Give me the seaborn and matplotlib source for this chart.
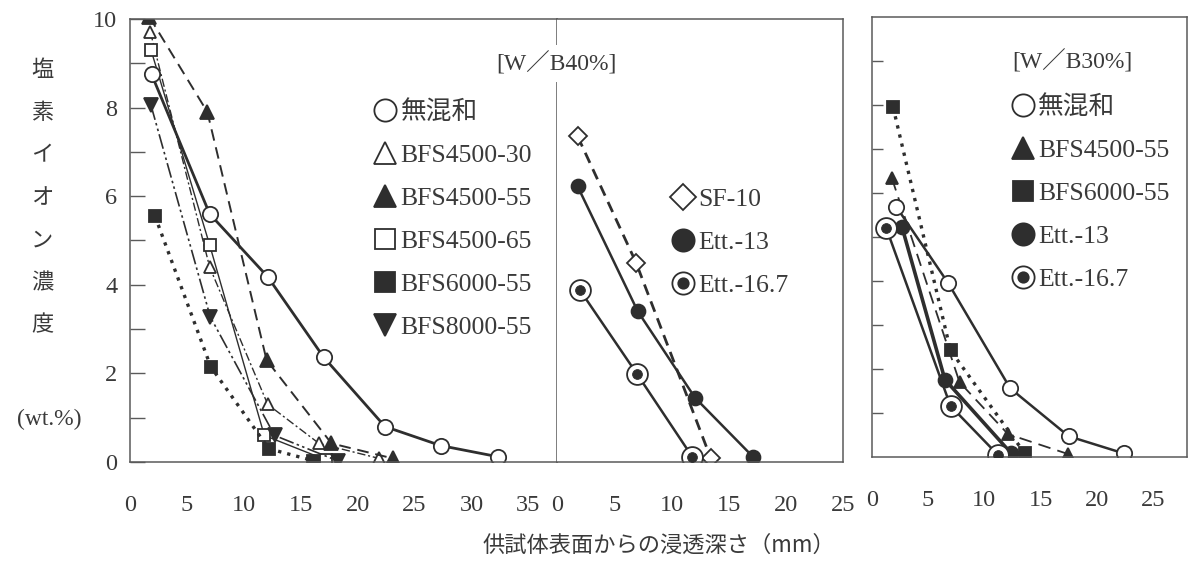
import matplotlib
matplotlib.use("Agg")
import matplotlib.pyplot as plt
from matplotlib.lines import Line2D
from matplotlib.font_manager import FontProperties
import seaborn as sns

# ---- W/B40% (左の枠) ----
mu40_x = [1.9, 7.0, 12.1, 17.0, 22.4, 27.3, 32.3]
mu40_y = [8.75, 5.6, 4.18, 2.37, 0.8, 0.37, 0.12]
b4530_x = [1.8, 7.0, 12.1, 16.6, 21.9]
b4530_y = [9.7, 4.4, 1.3, 0.42, 0.08]
b4555_40x = [1.7, 6.8, 12.0, 17.7, 23.1]
b4555_40y = [10.05, 7.9, 2.3, 0.42, 0.08]
b4565_x = [1.85, 7.0, 11.8, 17.2]
b4565_y = [9.3, 4.9, 0.6, 0.05]
b6055_40x = [2.2, 7.1, 12.2, 16.1]
b6055_40y = [5.55, 2.15, 0.3, 0.03]
b8055_x = [1.85, 7.05, 12.7, 18.3]
b8055_y = [8.05, 3.28, 0.6, 0.02]

sf10_x = [1.8, 6.9, 13.4]
sf10_y = [7.35, 4.5, 0.1]
e13_40x = [1.8, 7.05, 12.05, 17.1]
e13_40y = [6.22, 3.4, 1.45, 0.12]
e167_40x = [2.0, 7.0, 11.8]
e167_40y = [3.88, 1.98, 0.12]

# ---- W/B30% (右の枠) ----
mu30_x = [2.2, 6.8, 12.3, 17.5, 22.4]
mu30_y = [5.68, 3.95, 1.56, 0.47, 0.08]
b4555_30x = [1.8, 7.8, 12.1, 17.4]
b4555_30y = [6.33, 1.7, 0.52, 0.07]
b6055_30x = [1.9, 7.0, 13.6]
b6055_30y = [7.95, 2.42, 0.08]
e13_30x = [2.7, 6.5, 12.4]
e13_30y = [5.22, 1.76, 0.08]
e167_30x = [1.3, 7.0, 11.2]
e167_30y = [5.2, 1.16, 0.05]

xticks_left = [0, 5, 10, 15, 20, 25, 30, 35]
xticks_right = [0, 5, 10, 15, 20, 25]
ylabel_chars = ['塩', '素', 'イ', 'オ', 'ン', '濃', '度']

sns.set_style("white")
plt.rcParams['font.family'] = ['Liberation Serif', 'Noto Sans CJK JP']
plt.rcParams['axes.unicode_minus'] = False

INK = '#2e2e2e'
FRAME = '#5a5a5a'
TXT = '#3a3a3a'

fig = plt.figure(figsize=(11.9, 5.65), dpi=100)
ax1 = fig.add_axes([0.1092, 0.1823, 0.3588, 0.7841])
ax2 = fig.add_axes([0.4681, 0.1823, 0.2406, 0.7841])
ax3 = fig.add_axes([0.7325, 0.1912, 0.2650, 0.7788])


def curve(ax, x, y, ls, lw, marker, ms, filled):
    sns.lineplot(x=x, y=y, ax=ax, sort=False, estimator=None, color=INK,
                 linestyle=ls, linewidth=lw, marker=marker, markersize=ms,
                 markerfacecolor=INK if filled else 'white',
                 markeredgecolor=INK, markeredgewidth=1.3)


def bullseye(ax, x, y, ls, lw):
    curve(ax, x, y, ls, lw, 'o', 15, False)
    sns.scatterplot(x=x, y=y, ax=ax, s=50, color=INK, edgecolor=INK,
                    zorder=4, legend=False)


def handle(marker, filled, ms=15):
    return Line2D([], [], linestyle='none', marker=marker, markersize=ms,
                  markerfacecolor=INK if filled else 'white',
                  markeredgecolor=INK, markeredgewidth=1.3)


bull_h = (handle('o', False, 16), handle('o', True, 7.5))

# 左
curve(ax1, b4530_x, b4530_y, (0, (6, 2, 1.5, 2)), 1.0, '^', 9, False)
curve(ax1, b4555_40x, b4555_40y, (0, (6, 3.5)), 1.4, '^', 10, True)
curve(ax1, b4565_x, b4565_y, '-', 1.0, 's', 9, False)
curve(ax1, b6055_40x, b6055_40y, (0, (1, 1.8)), 2.4, 's', 9, True)
curve(ax1, b8055_x, b8055_y, (0, (9, 2, 1.5, 2, 1.5, 2)), 1.2, 'v', 10, True)
curve(ax1, mu40_x, mu40_y, '-', 2.0, 'o', 11, False)

# 中
curve(ax2, sf10_x, sf10_y, (0, (4, 2.5)), 2.0, 'D', 9, False)
curve(ax2, e13_40x, e13_40y, '-', 1.8, 'o', 10, True)
bullseye(ax2, e167_40x, e167_40y, '-', 1.8)

# 右
curve(ax3, b4555_30x, b4555_30y, (0, (7, 4)), 1.3, '^', 9, True)
curve(ax3, b6055_30x, b6055_30y, (0, (1, 1.8)), 2.4, 's', 9, True)
curve(ax3, mu30_x, mu30_y, '-', 1.8, 'o', 11, False)
curve(ax3, e13_30x, e13_30y, '-', 2.6, 'o', 10, True)
bullseye(ax3, e167_30x, e167_30y, '-', 1.8)

for ax in (ax1, ax2, ax3):
    ax.set_ylim(0, 10)
    ax.set_xlabel('')
    ax.set_ylabel('')
    for s in ax.spines.values():
        s.set_color(FRAME)
        s.set_linewidth(1.1)
        s.set_visible(True)
    ax.tick_params(axis='x', direction='in', length=16, width=1, color=FRAME,
                   pad=24, labelsize=17.5, labelcolor=TXT)

ax1.set_xlim(0, 37.5)
ax2.set_xlim(0, 25.0)
ax3.set_xlim(0, 28.0)
ax1.set_xticks(xticks_left, [str(v) for v in xticks_left])
ax2.set_xticks(xticks_right, [str(v) for v in xticks_right])
ax3.set_xticks(xticks_right, [str(v) for v in xticks_right])

ax1.set_yticks(range(0, 11, 2))
ax1.set_yticks(range(1, 10, 2), minor=True)
ax1.tick_params(axis='y', which='both', direction='in', length=11, width=1,
                color=FRAME, pad=9, labelsize=17.5, labelcolor=TXT, left=True)
ax2.set_yticks([])
ax2.spines['left'].set_visible(False)
ax3.set_yticks(range(1, 10))
ax3.tick_params(axis='y', direction='in', length=8, width=1, color=FRAME,
                labelleft=False, left=True)

leg_font = FontProperties(family=['Liberation Serif', 'Noto Sans CJK JP'], size=18.5)
leg_kw = dict(loc='upper left', bbox_transform=fig.transFigure, frameon=False,
              prop=leg_font, handlelength=0.8, handletextpad=0.2,
              labelspacing=0.78, borderpad=0, borderaxespad=0, labelcolor=TXT)

ax1.legend([handle('o', False, 16), handle('^', False, 16), handle('^', True, 16),
            handle('s', False, 15), handle('s', True, 15), handle('v', True, 16)],
           ['無混和', 'BFS4500-30', 'BFS4500-55', 'BFS4500-65', 'BFS6000-55', 'BFS8000-55'],
           bbox_to_anchor=(0.315, 0.823), **leg_kw)
ax2.legend([handle('D', False, 13), handle('o', True, 16), bull_h],
           ['SF-10', 'Ett.-13', 'Ett.-16.7'],
           bbox_to_anchor=(0.5653, 0.667), **leg_kw)
ax3.legend([handle('o', False, 16), handle('^', True, 16), handle('s', True, 15),
            handle('o', True, 16), bull_h],
           ['無混和', 'BFS4500-55', 'BFS6000-55', 'Ett.-13', 'Ett.-16.7'],
           bbox_to_anchor=(0.8507, 0.832), **leg_kw)

fig.text(0.468, 0.887, '[W／B40%]', ha='center', va='center', fontsize=17,
         color=TXT, bbox=dict(facecolor='white', edgecolor='none', pad=5))
fig.text(0.901, 0.890, '[W／B30%]', ha='center', va='center', fontsize=17,
         color=TXT)

for i, ch in enumerate(ylabel_chars):
    fig.text(0.0353, 1 - (70 + 42.5 * i) / 565, ch, ha='center', va='center',
             fontsize=16, color=TXT, family='Noto Sans CJK JP')
fig.text(0.041, 1 - 419 / 565, '(wt.%)', ha='center', va='center',
         fontsize=17, color=TXT)
fig.text(0.554, 0.0354, '供試体表面からの浸透深さ（mm）', ha='center', va='center',
         fontsize=16, color=TXT, family='Noto Sans CJK JP')

fig.savefig('out.png', dpi=100)
